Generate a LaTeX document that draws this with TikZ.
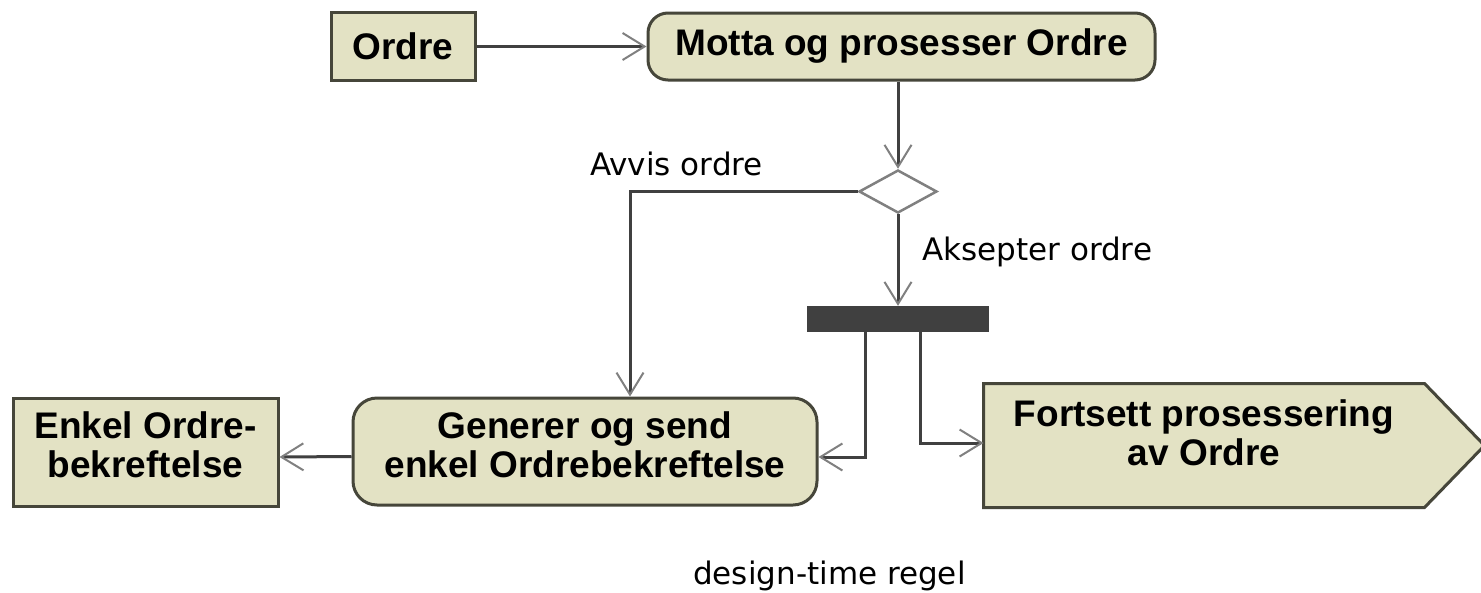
\documentclass[tikz,border=0pt]{standalone}
\usepackage{fontspec}
\setmainfont{Liberation Sans}
\newfontfamily\lblfont{DejaVu Sans}
\usetikzlibrary{arrows.meta,shapes.geometric}
\definecolor{boxfill}{RGB}{227,226,196}
\definecolor{boxline}{RGB}{70,70,58}
\definecolor{wirecol}{RGB}{64,64,64}
\definecolor{tipgray}{RGB}{128,128,128}
\begin{document}
\begin{tikzpicture}[x=1pt,y=-1pt,
  box/.style={draw=boxline, line width=3pt, fill=boxfill, font=\bfseries\fontsize{37}{39}\selectfont, align=center, inner sep=0pt},
  act/.style={box, rounded corners=20pt},
  wire/.style={draw=wirecol, line width=3pt},
  arr/.style={wire, -{Straight Barb[length=22pt,width=27pt,line width=2pt,color=tipgray]}},
  lbl/.style={font=\lblfont\fontsize{31}{36}\selectfont, inner sep=0pt, anchor=base west}]
\useasboundingbox (0,0) rectangle (1481,592);
\fill[white] (0,0) rectangle (1481,592);
% nodes
\node[box, minimum width=144pt, minimum height=68pt] (ordre) at (403,46.5) {Ordre};
\node[act, minimum width=507pt, minimum height=67pt] (motta) at (901.5,46.5) {Motta og prosesser Ordre};
\node[diamond, draw=tipgray, line width=2.5pt, fill=white, minimum width=78pt, minimum height=43pt, inner sep=0pt] (dec) at (898,191.5) {};
\node[fill=wirecol, minimum width=182pt, minimum height=26pt, inner sep=0pt] (bar) at (898,319) {};
\node[act, rounded corners=24pt, minimum width=464pt, minimum height=107pt, text depth=14pt] (gen) at (585,451.5) {Generer og send\\enkel Ordrebekreftelse};
\node[box, minimum width=265pt, minimum height=108pt, text depth=14pt] (enkel) at (145.5,452) {Enkel Ordre-\\bekreftelse};
\node[box, draw=none, fill=none, minimum width=438pt, minimum height=121pt] (fort) at (1204,445.5) {};
\draw[draw=boxline, line width=3pt, fill=boxfill, line join=miter]
  (fort.north west) -- (fort.north east) -- ([xshift=60pt]fort.east) -- (fort.south east) -- (fort.south west) -- cycle;
\node[box, draw=none, fill=none, anchor=north] (forttxt) at ([yshift=-15pt]fort.north) {Fortsett prosessering\\av Ordre};
% connectors
\draw[arr] (ordre.east) -- (motta.west);
\draw[arr] (dec.north |- motta.south) -- (dec.north);
\draw[arr] (dec.west) -| ([xshift=45pt]gen.north);
\draw[arr] (dec.south) -- (bar.north);
\draw[arr] ([xshift=-33pt]bar.south) |- ([yshift=-5.5pt]gen.east);
\draw[arr] ([xshift=22pt]bar.south) |- ([yshift=2.5pt]fort.west);
\draw[arr] ([yshift=-5pt]gen.west) -- ([yshift=-5pt]enkel.east);
% labels
\node[lbl] (avvis) at (590,175) {Avvis ordre};
\node[lbl] (aksept) at (922,260) {Aksepter ordre};
\node[lbl] (regel) at (693,584) {design-time regel};
\end{tikzpicture}
\end{document}
